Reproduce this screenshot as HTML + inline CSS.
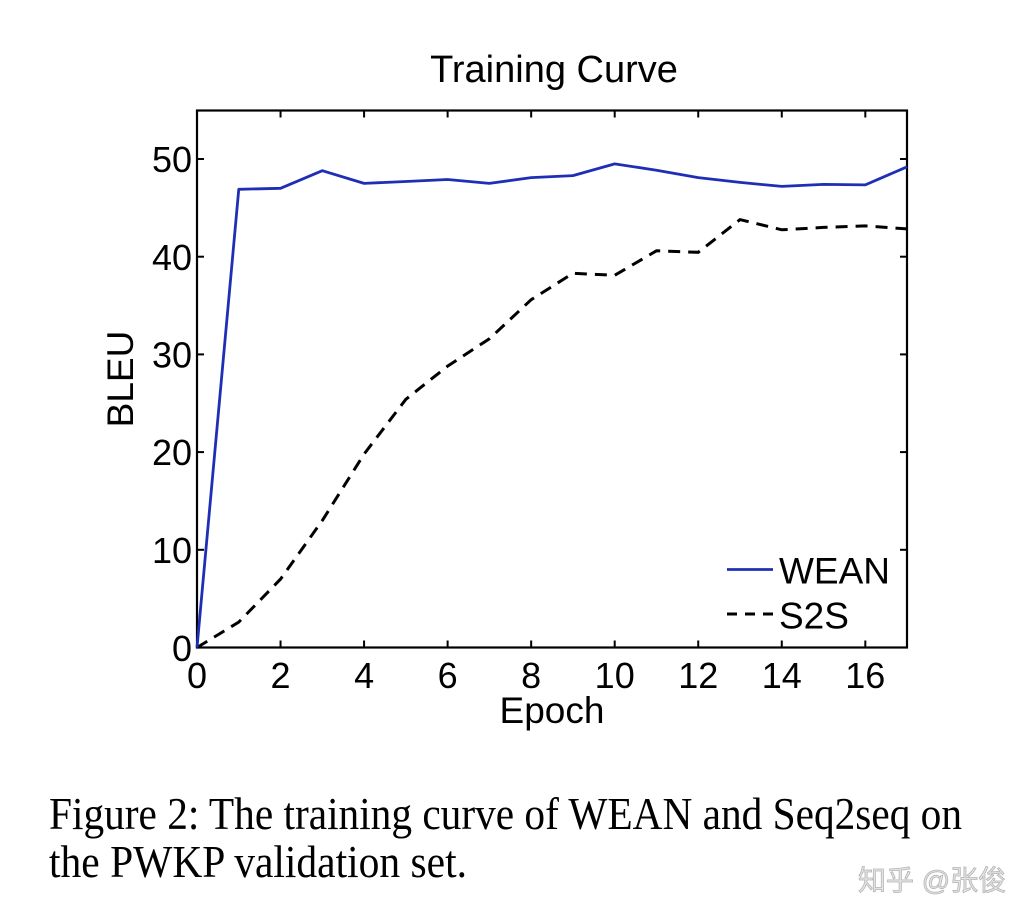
<!DOCTYPE html>
<html>
<head>
<meta charset="utf-8">
<style>
html,body{margin:0;padding:0;background:#fff;}
body{width:1020px;height:920px;overflow:hidden;}
svg{display:block;}
</style>
</head>
<body>
<svg width="1020" height="920" viewBox="0 0 1020 920" xmlns="http://www.w3.org/2000/svg">
<rect width="1020" height="920" fill="#fff"/>
<!-- title -->
<text x="554" y="82" font-family="Liberation Sans, Arial, sans-serif" font-size="38" text-anchor="middle" fill="#000">Training Curve</text>

<!-- axes box -->
<rect x="197" y="110.5" width="710" height="537" fill="none" stroke="#000" stroke-width="2.2"/>

<!-- x ticks -->
<g stroke="#000" stroke-width="2">
<line x1="280.54" y1="647.5" x2="280.54" y2="640.5"/><line x1="280.54" y1="110.5" x2="280.54" y2="117.5"/>
<line x1="364.08" y1="647.5" x2="364.08" y2="640.5"/><line x1="364.08" y1="110.5" x2="364.08" y2="117.5"/>
<line x1="447.62" y1="647.5" x2="447.62" y2="640.5"/><line x1="447.62" y1="110.5" x2="447.62" y2="117.5"/>
<line x1="531.16" y1="647.5" x2="531.16" y2="640.5"/><line x1="531.16" y1="110.5" x2="531.16" y2="117.5"/>
<line x1="614.7" y1="647.5" x2="614.7" y2="640.5"/><line x1="614.7" y1="110.5" x2="614.7" y2="117.5"/>
<line x1="698.24" y1="647.5" x2="698.24" y2="640.5"/><line x1="698.24" y1="110.5" x2="698.24" y2="117.5"/>
<line x1="781.78" y1="647.5" x2="781.78" y2="640.5"/><line x1="781.78" y1="110.5" x2="781.78" y2="117.5"/>
<line x1="865.32" y1="647.5" x2="865.32" y2="640.5"/><line x1="865.32" y1="110.5" x2="865.32" y2="117.5"/>
<!-- y ticks -->
<line x1="197" y1="549.8" x2="204" y2="549.8"/><line x1="907" y1="549.8" x2="900" y2="549.8"/>
<line x1="197" y1="452.1" x2="204" y2="452.1"/><line x1="907" y1="452.1" x2="900" y2="452.1"/>
<line x1="197" y1="354.4" x2="204" y2="354.4"/><line x1="907" y1="354.4" x2="900" y2="354.4"/>
<line x1="197" y1="256.7" x2="204" y2="256.7"/><line x1="907" y1="256.7" x2="900" y2="256.7"/>
<line x1="197" y1="159" x2="204" y2="159"/><line x1="907" y1="159" x2="900" y2="159"/>
</g>

<!-- x tick labels -->
<g font-family="Liberation Sans, Arial, sans-serif" font-size="36" text-anchor="middle" fill="#000">
<text x="197" y="688">0</text>
<text x="280.54" y="688">2</text>
<text x="364.08" y="688">4</text>
<text x="447.62" y="688">6</text>
<text x="531.16" y="688">8</text>
<text x="614.7" y="688">10</text>
<text x="698.24" y="688">12</text>
<text x="781.78" y="688">14</text>
<text x="865.32" y="688">16</text>
</g>
<!-- y tick labels -->
<g font-family="Liberation Sans, Arial, sans-serif" font-size="36" text-anchor="end" fill="#000">
<text x="192" y="661">0</text>
<text x="192" y="563">10</text>
<text x="192" y="465">20</text>
<text x="192" y="367.5">30</text>
<text x="192" y="270">40</text>
<text x="192" y="172">50</text>
</g>

<!-- axis labels -->
<text x="552" y="723" font-family="Liberation Sans, Arial, sans-serif" font-size="37" text-anchor="middle" fill="#000">Epoch</text>
<text transform="translate(133,379) rotate(-90)" font-family="Liberation Sans, Arial, sans-serif" font-size="37" text-anchor="middle" fill="#000">BLEU</text>

<!-- S2S dashed -->
<polyline fill="none" stroke="#000" stroke-width="3" stroke-dasharray="12,8"
points="197,647.5 238.77,622.1 280.54,579.1 322.31,520.5 364.08,454.1 405.85,399.3 447.62,366.1 489.39,338.8 531.16,299.7 572.93,273.3 614.7,275.3 656.47,250.8 698.24,252.3 740.01,219.6 781.78,229.8 823.55,227.4 865.32,225.9 907.09,228.9"/>

<!-- WEAN -->
<polyline fill="none" stroke="#1f2fb5" stroke-width="2.8" stroke-linejoin="round"
points="197,647.5 238.77,189.3 280.54,188.3 322.31,170.7 364.08,183.4 405.85,181.5 447.62,179.5 489.39,183.4 531.16,177.6 572.93,175.6 614.7,163.9 656.47,170.2 698.24,177.6 740.01,182.4 781.78,186.4 823.55,184.4 865.32,184.9 907.09,166.8"/>

<!-- legend -->
<line x1="727" y1="569.5" x2="773" y2="569.5" stroke="#1f2fb5" stroke-width="2.8"/>
<text x="779" y="583.5" font-family="Liberation Sans, Arial, sans-serif" font-size="37" fill="#000">WEAN</text>
<line x1="727" y1="614" x2="773" y2="614" stroke="#000" stroke-width="3" stroke-dasharray="10,8"/>
<text x="779" y="628.5" font-family="Liberation Sans, Arial, sans-serif" font-size="37" fill="#000">S2S</text>

<!-- caption -->
<g font-family="Liberation Serif, Times New Roman, serif" font-size="41" fill="#000">
<g transform="translate(49,829) scale(1,1.12)">
<text x="0" y="0" textLength="913" lengthAdjust="spacingAndGlyphs">Figure 2: The training curve of WEAN and Seq2seq on</text>
</g>
<g transform="translate(49,877) scale(1,1.12)">
<text x="0" y="0" textLength="418" lengthAdjust="spacingAndGlyphs">the PWKP validation set.</text>
</g>
</g>

<!-- watermark -->
<text x="858" y="890" font-family="Liberation Sans, Noto Sans CJK SC, sans-serif" font-size="28" fill="#e4e4e4" stroke="#b5b5b5" stroke-width="0.8">知乎 @张俊</text>
</svg>
</body>
</html>
